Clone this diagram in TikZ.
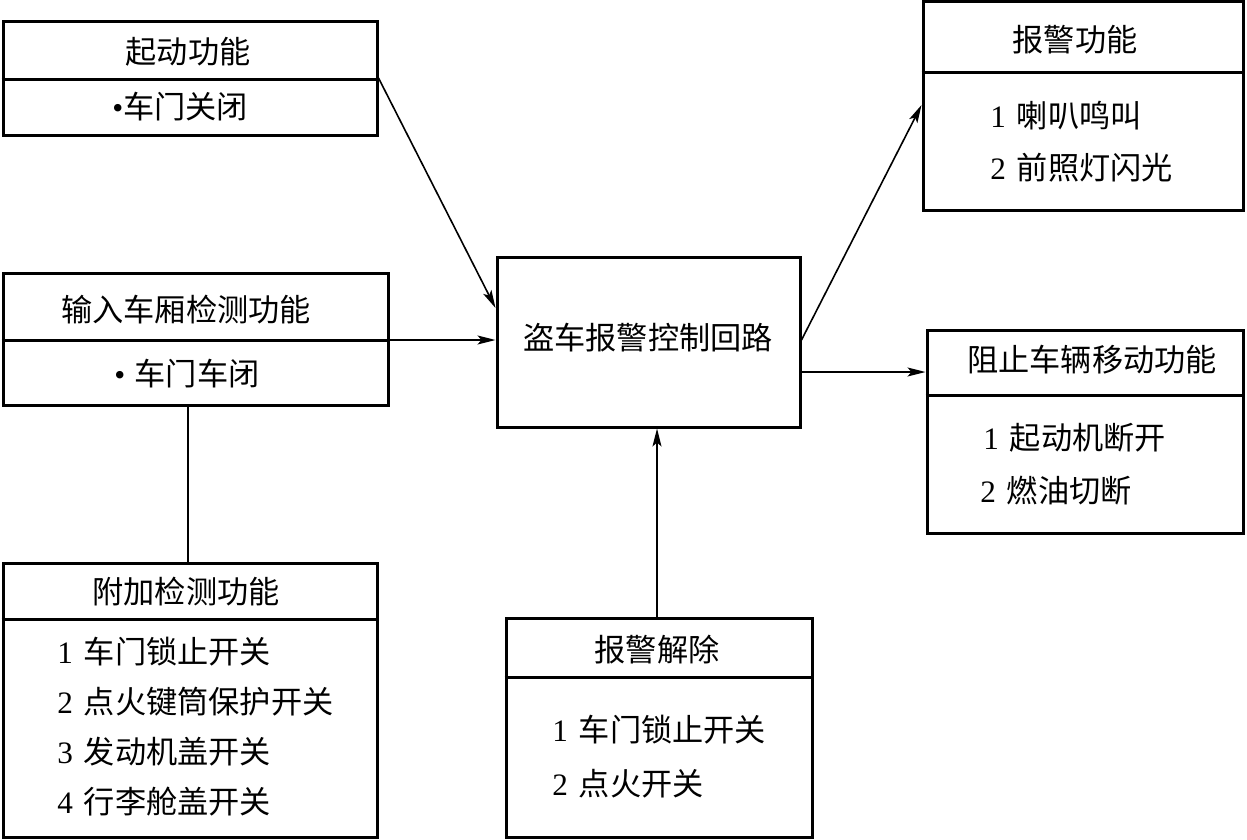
\documentclass[tikz,border=0pt]{standalone}
\usepackage{fontspec}
\setmainfont{Liberation Serif}
\newfontfamily\cjk{Noto Sans CJK SC}
\usetikzlibrary{fit,arrows.meta}
\begin{document}
\begin{tikzpicture}[x=0.5pt,y=-0.5pt]
\tikzset{
  box/.style={draw, line width=1.5pt, rectangle, inner sep=0pt},
  divider/.style={line width=1.5pt},
  conn/.style={line width=0.8pt, -{Stealth[length=9pt,width=4.5pt,inset=2pt]}},
  link/.style={line width=0.8pt},
  ttl/.style={font=\fontsize{15.6}{18}\selectfont, inner sep=0pt},
  itm/.style={ttl, anchor=west},
}
\useasboundingbox (0,0) rectangle (1247,840);
% boxes
\node[box, fit={(3,22)(377,136)}] (b1) {};
\node[box, fit={(3,273)(388,405)}] (b2) {};
\node[box, fit={(3,563)(377,837)}] (b3) {};
\node[box, fit={(497,257)(800,427)}] (c) {};
\node[box, fit={(923,2)(1243,210)}] (b5) {};
\node[box, fit={(927,330)(1243,533)}] (b6) {};
\node[box, fit={(506,618)(812,837)}] (b7) {};
% dividers
\draw[divider] (b1.west |- 0,80) -- (b1.east |- 0,80);
\draw[divider] (b2.west |- 0,340) -- (b2.east |- 0,340);
\draw[divider] (b3.west |- 0,619) -- (b3.east |- 0,619);
\draw[divider] (b5.west |- 0,73) -- (b5.east |- 0,73);
\draw[divider] (b6.west |- 0,395) -- (b6.east |- 0,395);
\draw[divider] (b7.west |- 0,677) -- (b7.east |- 0,677);
% texts
\node[ttl] (t1) at (188,52) {\cjk 起动功能};
\node[itm] (t1a) at (112,107) {•{\cjk 车门关闭}};
\node[ttl] (t2) at (186,310) {\cjk 输入车厢检测功能};
\node[itm] (t2a) at (114,374) {•\hspace{0.3em}{\cjk 车门车闭}};
\node[ttl] (t3) at (186,592) {\cjk 附加检测功能};
\node[itm] (t3a) at (57,652) {1\hspace{0.35em}{\cjk 车门锁止开关}};
\node[itm] (t3b) at (57,702) {2\hspace{0.35em}{\cjk 点火键筒保护开关}};
\node[itm] (t3c) at (57,752) {3\hspace{0.35em}{\cjk 发动机盖开关}};
\node[itm] (t3d) at (57,802) {4\hspace{0.35em}{\cjk 行李舱盖开关}};
\node[ttl] (tc) at (648,338) {\cjk 盗车报警控制回路};
\node[ttl] (t5) at (1075,40) {\cjk 报警功能};
\node[itm] (t5a) at (990,116) {1\hspace{0.35em}{\cjk 喇叭鸣叫}};
\node[itm] (t5b) at (990,168) {2\hspace{0.35em}{\cjk 前照灯闪光}};
\node[ttl] (t6) at (1092,360) {\cjk 阻止车辆移动功能};
\node[itm] (t6a) at (983,438) {1\hspace{0.35em}{\cjk 起动机断开}};
\node[itm] (t6b) at (980,491) {2\hspace{0.35em}{\cjk 燃油切断}};
\node[ttl] (t7) at (657,650) {\cjk 报警解除};
\node[itm] (t7a) at (552,730) {1\hspace{0.35em}{\cjk 车门锁止开关}};
\node[itm] (t7b) at (552,784) {2\hspace{0.35em}{\cjk 点火开关}};
% connectors
\draw[conn] (b1.east |- 0,78) -- (c.west |- 0,308);
\draw[conn] (b2.east |- 0,340) -- (c.west |- 0,340);
\draw[link] (b2.south -| 188,0) -- (b3.north -| 188,0);
\draw[conn] (b7.north -| 657,0) -- (c.south -| 657,0);
\draw[conn] (c.east |- 0,340) -- (b5.west |- 0,105);
\draw[conn] (c.east |- 0,372) -- (b6.west |- 0,372);
\end{tikzpicture}
\end{document}
